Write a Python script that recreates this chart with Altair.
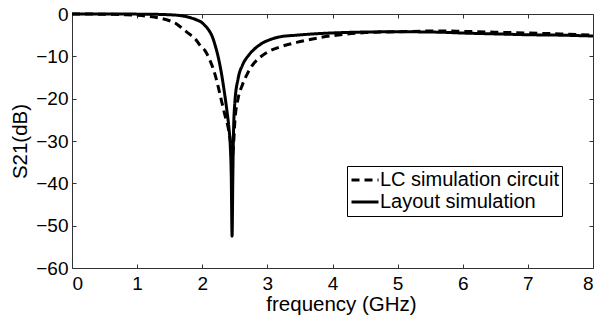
import altair as alt
import pandas as pd

# ---- data ----
series_names = ["LC simulation circuit", "Layout simulation"]

freq_layout = [0.0, 0.5, 1.0, 1.3, 1.5, 1.65, 1.8, 1.9, 2.0, 2.04, 2.1, 2.15, 2.2, 2.25,
               2.3, 2.34, 2.38, 2.41, 2.43, 2.445, 2.458, 2.47, 2.48, 2.5, 2.55, 2.62,
               2.71, 2.8, 2.91, 3.05, 3.19, 3.45, 3.96, 4.37, 5.0, 5.65, 6.0, 6.5, 7.0,
               7.5, 8.0]
s21_layout = [0.0, 0.0, -0.03, -0.08, -0.18, -0.35, -0.8, -1.3, -2.1, -2.7, -3.8, -5.2,
              -7.5, -10.5, -14.5, -18.5, -23.0, -27.0, -31.0, -38.0, -52.5, -38.0, -28.0,
              -21.0, -15.3, -12.0, -9.8, -8.3, -7.0, -6.0, -5.4, -5.0, -4.5, -4.3, -4.2,
              -4.3, -4.5, -4.7, -4.9, -5.0, -5.2]

freq_lc = [0.0, 0.5, 0.8, 1.0, 1.2, 1.35, 1.5, 1.6, 1.71, 1.8, 1.9, 1.97, 2.04, 2.12,
           2.2, 2.25, 2.3, 2.35, 2.4, 2.44, 2.46, 2.48, 2.5, 2.55, 2.61, 2.68, 2.76, 2.86,
           3.0, 3.19, 3.45, 3.76, 4.17, 4.5, 5.0, 5.65, 6.0, 6.5, 7.0, 7.5, 8.0]
s21_lc = [0.0, -0.05, -0.15, -0.3, -0.6, -1.0, -1.6, -2.3, -3.6, -4.7, -6.0, -7.5, -8.6,
          -11.0, -14.5, -17.5, -20.8, -24.0, -27.0, -31.0, -34.0, -31.0, -25.5, -20.0,
          -17.0, -14.5, -12.3, -10.6, -9.0, -7.8, -6.7, -5.7, -4.8, -4.4, -4.2, -4.0,
          -4.1, -4.3, -4.5, -4.7, -5.0]

x_ticks = [0, 1, 2, 3, 4, 5, 6, 7, 8]
y_ticks = [-60, -50, -40, -30, -20, -10, 0]

df = pd.concat([
    pd.DataFrame({"freq": freq_lc, "s21": s21_lc, "series": series_names[0]}),
    pd.DataFrame({"freq": freq_layout, "s21": s21_layout, "series": series_names[1]}),
])

FONT = "Liberation Sans"
TICK = 4

xscale = alt.Scale(domain=[0, 8], nice=False, zero=False)
yscale = alt.Scale(domain=[-60, 0], nice=False, zero=False)

main = alt.Chart(df).mark_line(strokeWidth=3, color="black", interpolate="monotone").encode(
    x=alt.X("freq:Q", scale=xscale,
            axis=alt.Axis(values=x_ticks, title="frequency (GHz)", orient="bottom",
                          offset=-TICK, tickSize=TICK, domain=False, grid=False,
                          labelPadding=6, titlePadding=1, titleX=269, format="d")),
    y=alt.Y("s21:Q", scale=yscale,
            axis=alt.Axis(values=y_ticks, title="S21(dB)", orient="left",
                          offset=-TICK, tickSize=TICK, domain=False, grid=False,
                          labelPadding=4, titlePadding=5, format="d")),
    strokeDash=alt.StrokeDash(
        "series:N",
        scale=alt.Scale(domain=series_names, range=[[8, 5], [1, 0]]),
        legend=alt.Legend(title=None, orient="none", legendX=275, legendY=152,
                          symbolType="stroke", symbolSize=729, symbolStrokeWidth=3,
                          symbolStrokeColor="black", labelFontSize=20, labelFont=FONT,
                          labelColor="black", strokeColor="black", padding=3,
                          rowPadding=0, labelOffset=0, clipHeight=22, labelLimit=400,
                          fillColor="white"),
    ),
    order=alt.Order("freq:Q"),
)

frame = alt.Chart(df).mark_line(opacity=0).encode(
    x=alt.X("freq:Q", scale=xscale,
            axis=alt.Axis(values=x_ticks, title=None, orient="top", offset=-TICK,
                          tickSize=TICK, domain=False, grid=False, labels=False)),
    y=alt.Y("s21:Q", scale=yscale,
            axis=alt.Axis(values=y_ticks, title=None, orient="right", offset=-TICK,
                          tickSize=TICK, domain=False, grid=False, labels=False)),
    detail="series:N",
)

chart = alt.layer(main, frame).resolve_axis(x="independent", y="independent").properties(
    width=521, height=254,
    autosize=alt.AutoSizeParams(type="none"),
    padding={"left": 72, "top": 14, "right": 12, "bottom": 54},
).configure_view(stroke="#333333", strokeWidth=1).configure_axis(
    labelFont=FONT, titleFont=FONT, labelFontSize=19, titleFontSize=20.5,
    labelColor="black", titleColor="black", tickColor="#333333", tickWidth=1,
    titleFontWeight="normal",
)

chart.save("out.html", embed_options={"renderer": "svg", "actions": False})
